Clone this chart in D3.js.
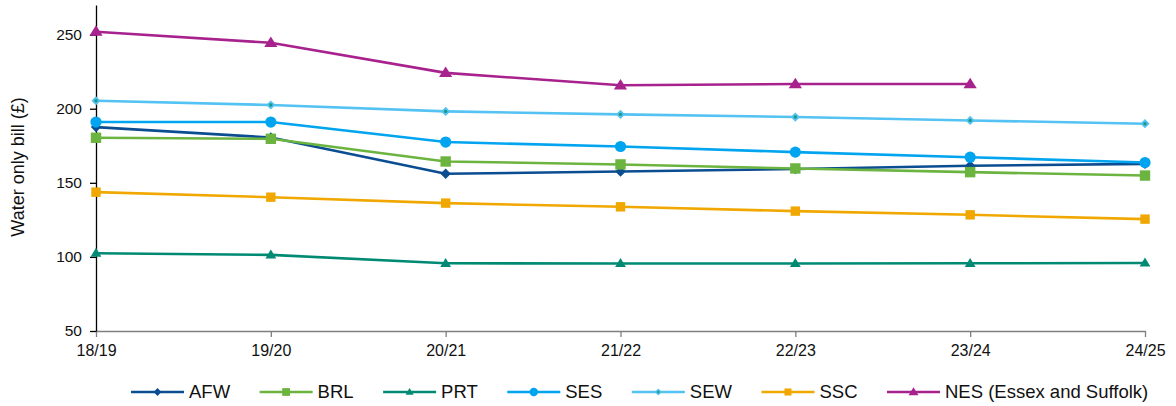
<!DOCTYPE html>
<html>
<head>
<meta charset="utf-8">
<script src="https://cdn.jsdelivr.net/npm/d3@7"></script>
<style>
  html, body { margin: 0; padding: 0; background: #fff; }
  svg { display: block; font-family: "Liberation Sans", Arial, sans-serif; }
</style>
</head>
<body>
<svg id="chart" width="1176" height="406"></svg>
<script>
// Financial years on the x axis
const years = ["18/19", "19/20", "20/21", "21/22", "22/23", "23/24", "24/25"];

// Average water-only bill (£) per company
const afw = [187.6, 180.6, 156.1, 157.6, 159.3, 161.5, 162.8];
const brl = [180.4, 179.7, 164.4, 162.4, 159.7, 157.2, 154.9];
const prt = [102.5, 101.4, 95.7, 95.6, 95.6, 95.7, 95.9];
const ses = [191.0, 191.0, 177.5, 174.5, 170.7, 167.3, 163.7];
const sew = [205.4, 202.5, 198.2, 196.2, 194.4, 192.1, 189.9];
const ssc = [143.7, 140.3, 136.3, 133.8, 130.9, 128.4, 125.5];
const nes = [252.0, 244.5, 224.2, 215.8, 216.7, 216.7, null];

const yTicks = [50, 100, 150, 200, 250];
const yTitle = "Water only bill (£)";

const series = [
  { name: "AFW", values: afw, color: "#0b4d91", marker: "diamond" },
  { name: "BRL", values: brl, color: "#6cb440", marker: "square" },
  { name: "PRT", values: prt, color: "#008a74", marker: "triangleSmall" },
  { name: "SES", values: ses, color: "#00a4ef", marker: "circle" },
  { name: "SEW", values: sew, color: "#54c2f3", marker: "diamondSmall", inner: "#1a9a86" },
  { name: "SSC", values: ssc, color: "#f0a800", marker: "squareSmall" },
  { name: "NES (Essex and Suffolk)", values: nes, color: "#a8228e", marker: "triangle" }
];

const svg = d3.select("#chart");
const margin = { left: 96, right: 31, top: 5, bottom: 75 };
const W = 1176, H = 406;

const x = d3.scalePoint().domain(years).range([margin.left, W - margin.right]).padding(0);
const y = d3.scaleLinear().domain([50, 270]).range([H - margin.bottom, margin.top]);

// Axes
const xAxis = svg.append("g")
  .attr("transform", `translate(0,${H - margin.bottom})`)
  .call(d3.axisBottom(x).tickSizeInner(6).tickSizeOuter(0).tickPadding(8));
xAxis.select(".domain").attr("stroke", "#7f7f7f").attr("stroke-width", 1.3);
xAxis.selectAll(".tick line").attr("stroke", "#7f7f7f").attr("stroke-width", 1.3);
xAxis.selectAll(".tick text").attr("font-size", 16).attr("fill", "#111")
  .attr("font-family", "Liberation Sans, Arial, sans-serif");

const yAxis = svg.append("g")
  .attr("transform", `translate(${margin.left},0)`)
  .call(d3.axisLeft(y).tickValues(yTicks).tickSizeInner(6).tickSizeOuter(0).tickPadding(8));
yAxis.select(".domain").attr("stroke", "#000").attr("stroke-width", 1.3);
yAxis.selectAll(".tick line").attr("stroke", "#000").attr("stroke-width", 1.3);
yAxis.selectAll(".tick text").attr("font-size", 15.5).attr("fill", "#111")
  .attr("font-family", "Liberation Sans, Arial, sans-serif");

svg.append("text")
  .attr("transform", `translate(24,${(y(50) + y(270)) / 2 - 1}) rotate(-90)`)
  .attr("text-anchor", "middle")
  .attr("font-size", 18)
  .attr("fill", "#111")
  .text(yTitle);

// Marker shapes
function drawMarker(g, type, color, inner, scale) {
  const s = scale || 1;
  if (type === "diamond") {
    const r = 5.2 * s;
    g.append("path").attr("d", `M0,${-r}L${r},0L0,${r}L${-r},0Z`).attr("fill", color);
  } else if (type === "diamondSmall") {
    const r = 4.6 * s;
    g.append("path").attr("d", `M0,${-r}L${r},0L0,${r}L${-r},0Z`).attr("fill", color);
    g.append("circle").attr("r", 1.7 * s).attr("fill", inner);
  } else if (type === "square") {
    const h = 5.2 * s;
    g.append("rect").attr("x", -h).attr("y", -h).attr("width", 2 * h).attr("height", 2 * h).attr("fill", color);
  } else if (type === "squareSmall") {
    const h = 4.7 * s;
    g.append("rect").attr("x", -h).attr("y", -h).attr("width", 2 * h).attr("height", 2 * h).attr("fill", color);
  } else if (type === "circle") {
    g.append("circle").attr("r", 5.6 * s).attr("fill", color);
  } else if (type === "triangle") {
    const w = 6.6 * s, h = 10.5 * s;
    g.append("path").attr("d", `M0,${-h * 0.6}L${w},${h * 0.4}L${-w},${h * 0.4}Z`).attr("fill", color);
  } else if (type === "triangleSmall") {
    const w = 5.4 * s, h = 9 * s;
    g.append("path").attr("d", `M0,${-h * 0.6}L${w},${h * 0.4}L${-w},${h * 0.4}Z`).attr("fill", color);
  }
}

// Lines and markers (drawn in legend order, last on top)
const line = d3.line()
  .defined(d => d.v != null)
  .x(d => x(d.year))
  .y(d => y(d.v));

const plot = svg.append("g");
series.forEach(s => {
  const pts = years.map((yr, i) => ({ year: yr, v: s.values[i] }));
  plot.append("path")
    .datum(pts)
    .attr("fill", "none")
    .attr("stroke", s.color)
    .attr("stroke-width", 2.6)
    .attr("stroke-linejoin", "round")
    .attr("d", line);
  pts.filter(d => d.v != null).forEach(d => {
    const g = plot.append("g").attr("transform", `translate(${x(d.year)},${y(d.v)})`);
    drawMarker(g, s.marker, s.color, s.inner, 1);
  });
});

// Legend
const legend = svg.append("g").attr("transform", "translate(131,392)");
let lx = 0;
series.forEach(s => {
  const g = legend.append("g").attr("transform", `translate(${lx},0)`);
  g.append("line").attr("x1", 0).attr("x2", 53).attr("y1", 0).attr("y2", 0)
    .attr("stroke", s.color).attr("stroke-width", 2.6);
  const m = g.append("g").attr("transform", "translate(26.5,0)");
  drawMarker(m, s.marker, s.color, s.inner, 0.75);
  const t = g.append("text").attr("x", 58).attr("y", 6.3)
    .attr("font-size", 18.5).attr("fill", "#111").text(s.name);
  lx += 58 + t.node().getComputedTextLength() + 29.5;
});
</script>
</body>
</html>
